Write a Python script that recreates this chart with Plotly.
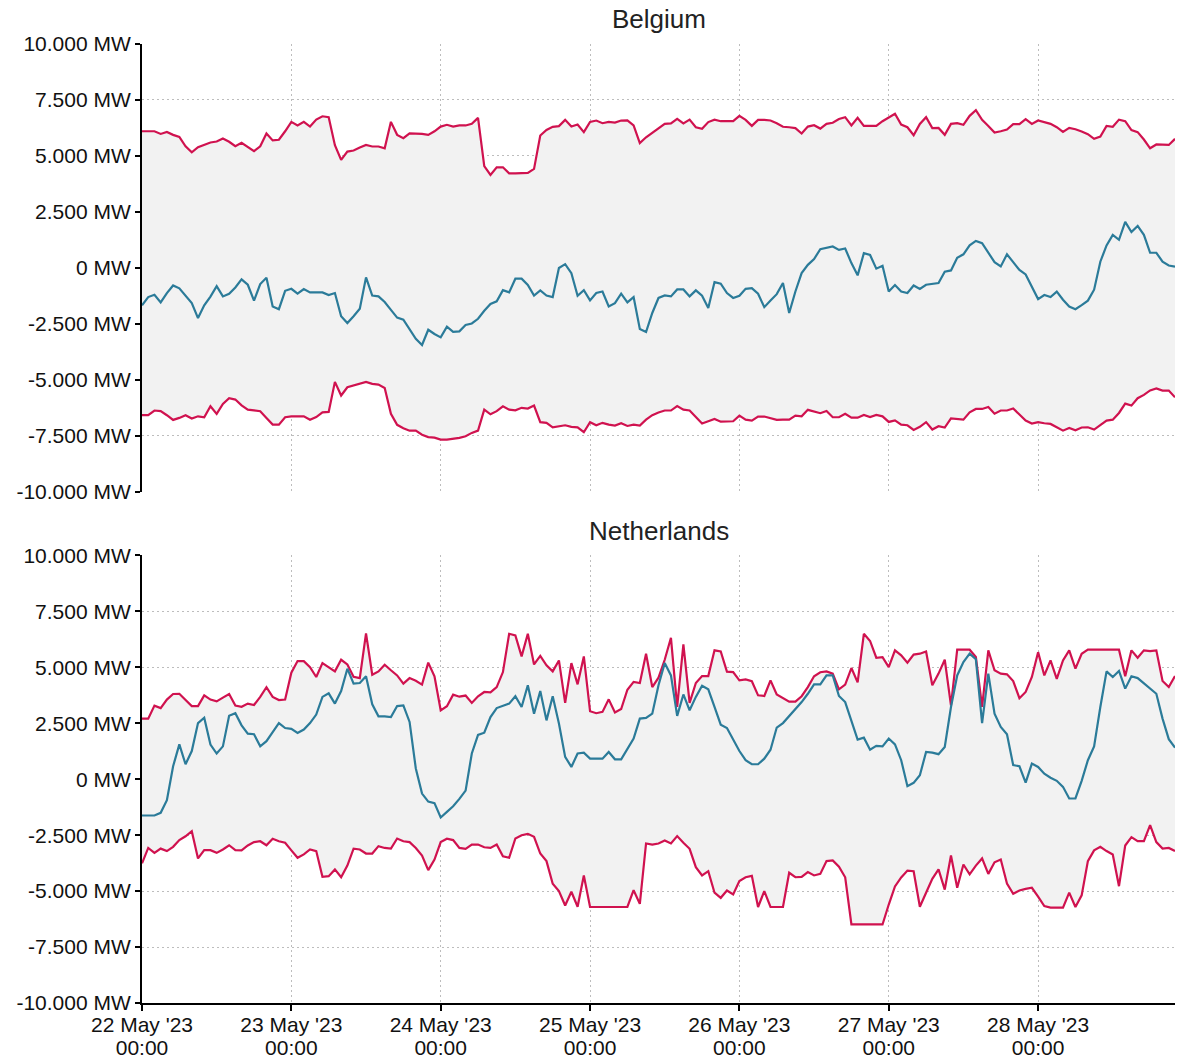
import pandas as pd
import plotly.graph_objects as go
from plotly.subplots import make_subplots

# Hourly timestamps, 22 May 2023 00:00 onward
START = "2023-05-22 00:00"
N_HOURS = 167

# Belgium: maximum import/export capacity band and net position (MW)
be_max = [
    6100, 6100, 6100, 5980, 6070, 5940, 5850, 5430, 5160, 5390,
    5490, 5600, 5640, 5780, 5630, 5430, 5580, 5390, 5210, 5430,
    6000, 5690, 5720, 6100, 6520, 6360, 6520, 6310, 6620, 6770,
    6730, 5480, 4820, 5190, 5240, 5370, 5490, 5420, 5420, 5340,
    6520, 5940, 5790, 6010, 6010, 5980, 5940, 6100, 6310, 6390,
    6310, 6360, 6360, 6430, 6700, 4540, 4150, 4490, 4490, 4220,
    4220, 4220, 4240, 4420, 5910, 6160, 6300, 6330, 6610, 6310,
    6400, 6060, 6520, 6580, 6460, 6520, 6490, 6580, 6590, 6360,
    5570, 5830, 6040, 6240, 6430, 6450, 6650, 6450, 6620, 6280,
    6210, 6510, 6620, 6550, 6550, 6550, 6790, 6610, 6340, 6610,
    6610, 6580, 6460, 6300, 6280, 6240, 6000, 6310, 6370, 6220,
    6430, 6480, 6650, 6730, 6360, 6700, 6340, 6340, 6340, 6550,
    6700, 6880, 6400, 6280, 5920, 6430, 6730, 6240, 6250, 5940,
    6430, 6460, 6390, 6790, 7040, 6610, 6340, 6040, 6100, 6180,
    6420, 6420, 6640, 6430, 6580, 6510, 6430, 6280, 6070, 6250,
    6190, 6090, 5970, 5760, 5860, 6340, 6300, 6620, 6550, 6150,
    6060, 5730, 5340, 5510, 5490, 5490, 5760,
]
be_net = [
    -1680, -1310, -1210, -1550, -1130, -790, -920, -1240, -1580, -2250,
    -1680, -1290, -820, -1280, -1160, -880, -520, -760, -1470, -730,
    -450, -1730, -1850, -1030, -940, -1160, -950, -1100, -1100, -1100,
    -1220, -1130, -2170, -2470, -2170, -1830, -430, -1240, -1280, -1530,
    -1880, -2230, -2320, -2740, -3180, -3450, -2770, -2960, -3110, -2630,
    -2860, -2840, -2560, -2490, -2280, -1920, -1620, -1500, -1000, -1100,
    -490, -490, -770, -1240, -1010, -1240, -1310, -10, 160, -240,
    -1250, -1000, -1460, -1130, -1060, -1730, -1580, -1160, -1550, -1310,
    -2740, -2870, -2020, -1350, -1240, -1280, -970, -970, -1280, -1010,
    -1250, -1800, -640, -710, -1130, -1350, -1250, -940, -910, -1160,
    -1760, -1460, -1180, -680, -2020, -1060, -240, 130, 390, 830,
    890, 950, 800, 860, 210, -340, 650, 570, -40, 90,
    -1060, -770, -1060, -1130, -790, -950, -760, -730, -680, -180,
    -120, 450, 600, 1000, 1200, 1100, 700, 250, 60, 600,
    250, -100, -300, -850, -1400, -1220, -1310, -1070, -1430, -1730,
    -1850, -1670, -1470, -980, 270, 1000, 1470, 1250, 2050, 1600,
    1870, 1470, 670, 670, 270, 100, 50,
]
be_min = [
    -6590, -6590, -6380, -6410, -6590, -6800, -6710, -6590, -6740, -6640,
    -6680, -6190, -6530, -6090, -5830, -5890, -6150, -6340, -6370, -6410,
    -6710, -7010, -7010, -6680, -6640, -6640, -6640, -6790, -6670, -6460,
    -6440, -5100, -5710, -5340, -5270, -5180, -5100, -5190, -5220, -5370,
    -6530, -7020, -7170, -7280, -7280, -7460, -7570, -7590, -7680, -7680,
    -7650, -7600, -7530, -7380, -7280, -6340, -6550, -6410, -6190, -6340,
    -6370, -6260, -6290, -6160, -6900, -6930, -7130, -7080, -7040, -7110,
    -7130, -7350, -6900, -7040, -6930, -7010, -7050, -6950, -7070, -7010,
    -7050, -6790, -6590, -6470, -6380, -6380, -6180, -6340, -6380, -6670,
    -6960, -6860, -6760, -6880, -6860, -6860, -6610, -6790, -6830, -6650,
    -6650, -6710, -6800, -6790, -6790, -6610, -6640, -6350, -6440, -6500,
    -6400, -6680, -6680, -6530, -6700, -6700, -6580, -6670, -6580, -6640,
    -6890, -6820, -7010, -7040, -7250, -7110, -6900, -7230, -7080, -7140,
    -6730, -6760, -6790, -6460, -6310, -6310, -6220, -6520, -6380, -6380,
    -6290, -6560, -6830, -6960, -6900, -6950, -6980, -7130, -7280, -7160,
    -7260, -7140, -7130, -7230, -7020, -6830, -6790, -6490, -6070, -6160,
    -5830, -5680, -5480, -5390, -5490, -5490, -5790,
]

# Netherlands: maximum import/export capacity band and net position (MW)
nl_max = [
    2710, 2710, 3290, 3180, 3560, 3810, 3820, 3560, 3270, 3270,
    3750, 3560, 3480, 3650, 3810, 3290, 3240, 3380, 3320, 3680,
    4110, 3680, 3540, 3560, 4760, 5280, 5280, 5010, 4570, 5190,
    5010, 4820, 5340, 5130, 4580, 4520, 6520, 4670, 4820, 5120,
    4870, 4640, 4270, 4520, 4400, 4230, 5210, 4600, 3080, 3260,
    3780, 3690, 3740, 3410, 3710, 3900, 3880, 4120, 4790, 6500,
    6430, 5490, 6500, 5130, 5510, 5090, 4820, 5310, 3410, 5190,
    4240, 5490, 3040, 2950, 3010, 3570, 2980, 3140, 4000, 4350,
    4300, 5610, 4120, 4540, 5340, 6320, 3230, 6030, 3410, 4300,
    4610, 4610, 5760, 5710, 4810, 4790, 4420, 4460, 4380, 3750,
    3720, 4420, 3790, 3620, 3470, 3470, 3710, 4120, 4600, 4780,
    4820, 4720, 4020, 4230, 4970, 4330, 6500, 6180, 5430, 5460,
    5010, 5760, 5540, 5210, 5570, 5610, 5710, 4200, 4720, 5340,
    3300, 5790, 5790, 5790, 5460, 3230, 5760, 4870, 4720, 4690,
    4390, 3620, 3900, 4570, 5680, 4640, 5310, 4490, 5310, 5760,
    4940, 5610, 5790, 5790, 5790, 5790, 5790, 5790, 4600, 5760,
    5430, 5760, 5730, 5760, 4390, 4120, 4610,
]
nl_net = [
    -1620, -1620, -1620, -1500, -940, 580, 1560, 670, 1260, 2510,
    2750, 1550, 1150, 1470, 2840, 2950, 2410, 2040, 2010, 1470,
    1700, 2110, 2510, 2290, 2250, 2070, 2220, 2510, 2890, 3680,
    3840, 3380, 3940, 4940, 4270, 4300, 4600, 3350, 2810, 2810,
    2780, 3270, 3300, 2560, 480, -640, -1000, -1070, -1710, -1460,
    -1210, -880, -510, 1150, 1980, 2080, 2780, 3180, 3270, 3380,
    3710, 3230, 4200, 2930, 3940, 2630, 3710, 2490, 1000, 550,
    1150, 1190, 920, 920, 920, 1220, 890, 890, 1370, 1820,
    2710, 2740, 2930, 4200, 5190, 4640, 2830, 3790, 3080, 3680,
    4180, 4020, 3230, 2440, 2290, 1800, 1260, 850, 670, 670,
    920, 1320, 2310, 2510, 2810, 3110, 3450, 3820, 4240, 4240,
    4640, 4640, 3720, 3450, 2590, 1770, 1860, 1320, 1490, 1470,
    1820, 1560, 850, -310, -160, 180, 1220, 1190, 1120, 1440,
    3230, 4640, 5240, 5610, 5360, 2510, 4720, 2930, 2340, 2010,
    630, 580, -150, 700, 550, 250, 70, -70, -340, -860,
    -860, -70, 850, 1470, 3230, 4820, 4570, 4840, 4050, 4600,
    4520, 4300, 4050, 3820, 2710, 1790, 1410,
]
nl_min = [
    -3760, -3070, -3290, -3100, -3210, -3020, -2720, -2550, -2320, -3540,
    -3170, -3170, -3290, -3140, -2950, -3170, -3180, -2960, -2810, -2770,
    -2950, -2660, -2770, -2840, -3180, -3510, -3360, -3140, -3210, -4360,
    -4330, -4030, -4380, -3860, -3100, -3140, -3320, -3320, -2990, -3070,
    -3100, -2650, -2770, -2810, -3070, -3410, -4060, -3590, -2810, -2660,
    -2720, -3070, -3110, -2920, -2920, -3040, -3070, -2920, -3440, -3510,
    -2650, -2500, -2440, -2570, -3320, -3660, -4670, -5000, -5640, -5030,
    -5700, -4300, -5710, -5710, -5710, -5710, -5710, -5710, -5710, -4960,
    -5570, -2870, -2920, -2870, -2740, -2870, -2540, -2840, -3110, -3930,
    -4300, -4110, -5070, -5300, -4970, -5150, -4550, -4380, -4320, -5710,
    -5000, -5710, -5710, -5710, -4180, -4380, -4360, -4150, -4300, -4230,
    -3660, -3630, -3910, -4380, -6490, -6490, -6490, -6490, -6490, -6490,
    -5600, -4790, -4390, -4080, -4110, -5700, -5070, -4450, -4030, -4930,
    -3410, -4850, -3810, -4250, -3860, -3540, -4230, -3710, -3590, -4660,
    -5120, -4970, -4900, -4850, -5250, -5670, -5740, -5740, -5740, -5070,
    -5710, -5190, -3660, -3180, -3020, -3210, -3360, -4780, -2960, -2590,
    -2770, -2770, -2050, -2810, -3100, -3070, -3210,
]

panels = ["Belgium", "Netherlands"]

y_ticks = [-10000, -7500, -5000, -2500, 0, 2500, 5000, 7500, 10000]
y_labels = ["-10.000 MW", "-7.500 MW", "-5.000 MW", "-2.500 MW", "0 MW",
            "2.500 MW", "5.000 MW", "7.500 MW", "10.000 MW"]

RED = "#d0124f"
BLUE = "#2b7b99"
BAND = "#f2f2f2"
GRID = "#bdbdbd"
DOTS = "2px,3px"
FONT = "Liberation Sans, Arial, sans-serif"
TICK_SIZE = 21
TITLE_SIZE = 26

times = pd.date_range(START, periods=N_HOURS, freq="h")

fig = make_subplots(rows=2, cols=1, shared_xaxes=True, vertical_spacing=0.0667)

series = [(be_min, be_max, be_net), (nl_min, nl_max, nl_net)]
for row, (lo, hi, net) in enumerate(series, start=1):
    fig.add_trace(go.Scatter(x=times, y=lo, mode="lines",
                             line=dict(color=RED, width=2.2),
                             hoverinfo="skip", showlegend=False), row=row, col=1)
    fig.add_trace(go.Scatter(x=times, y=hi, mode="lines", fill="tonexty",
                             fillcolor=BAND, line=dict(color=RED, width=2.2),
                             showlegend=False), row=row, col=1)
    fig.add_trace(go.Scatter(x=times, y=net, mode="lines",
                             line=dict(color=BLUE, width=2.2),
                             showlegend=False), row=row, col=1)

# Invisible carrier trace for the second (time-of-day) label row
fig.add_trace(go.Scatter(x=times, y=nl_net, mode="lines", opacity=0,
                         line=dict(width=0), hoverinfo="skip",
                         showlegend=False, xaxis="x3", yaxis="y2"))

for row in (1, 2):
    fig.update_yaxes(range=[-10000, 10000], tickvals=y_ticks, ticktext=y_labels,
                     showgrid=True, gridcolor=GRID, griddash=DOTS, gridwidth=1,
                     showline=True, linecolor="black", linewidth=2,
                     ticks="outside", ticklen=5, tickcolor="black", tickwidth=2,
                     zeroline=False, automargin=False,
                     tickfont=dict(size=TICK_SIZE, color="#111"),
                     row=row, col=1)
    fig.update_xaxes(range=[times[0], times[-1]], dtick=86400000,
                     tick0=times[0], showgrid=True, gridcolor=GRID,
                     griddash=DOTS, gridwidth=1, zeroline=False,
                     automargin=False, row=row, col=1)

fig.update_xaxes(showticklabels=False, showline=False, ticks="", row=1, col=1)
fig.update_xaxes(showticklabels=True, tickformat="%d %b '%y",
                 showline=True, linecolor="black", linewidth=2,
                 ticks="outside", ticklen=6, tickcolor="black", tickwidth=2,
                 ticklabelstandoff=-4,
                 tickfont=dict(size=TICK_SIZE, color="#111"), row=2, col=1)

fig.update_layout(
    xaxis3=dict(overlaying="x2", anchor="y2", side="bottom", matches="x2",
                range=[times[0], times[-1]], dtick=86400000, tick0=times[0],
                tickformat="%H:%M", showgrid=False, showline=False,
                zeroline=False, ticks="", ticklabelstandoff=30,
                automargin=False,
                tickfont=dict(size=TICK_SIZE, color="#111")),
    width=1179, height=1059,
    margin=dict(l=142, r=4, t=44, b=56),
    paper_bgcolor="white", plot_bgcolor="white",
    font=dict(family=FONT, color="#111"),
    showlegend=False,
    annotations=[
        dict(text=panels[0], x=0.5, y=1.0, xref="paper", yref="paper",
             xanchor="center", yanchor="bottom", yshift=8, showarrow=False,
             font=dict(size=TITLE_SIZE, color="#222", family=FONT)),
        dict(text=panels[1], x=0.5, y=0.4661, xref="paper", yref="paper",
             xanchor="center", yanchor="bottom", yshift=8, showarrow=False,
             font=dict(size=TITLE_SIZE, color="#222", family=FONT)),
    ],
)

fig.write_html("out.html")
